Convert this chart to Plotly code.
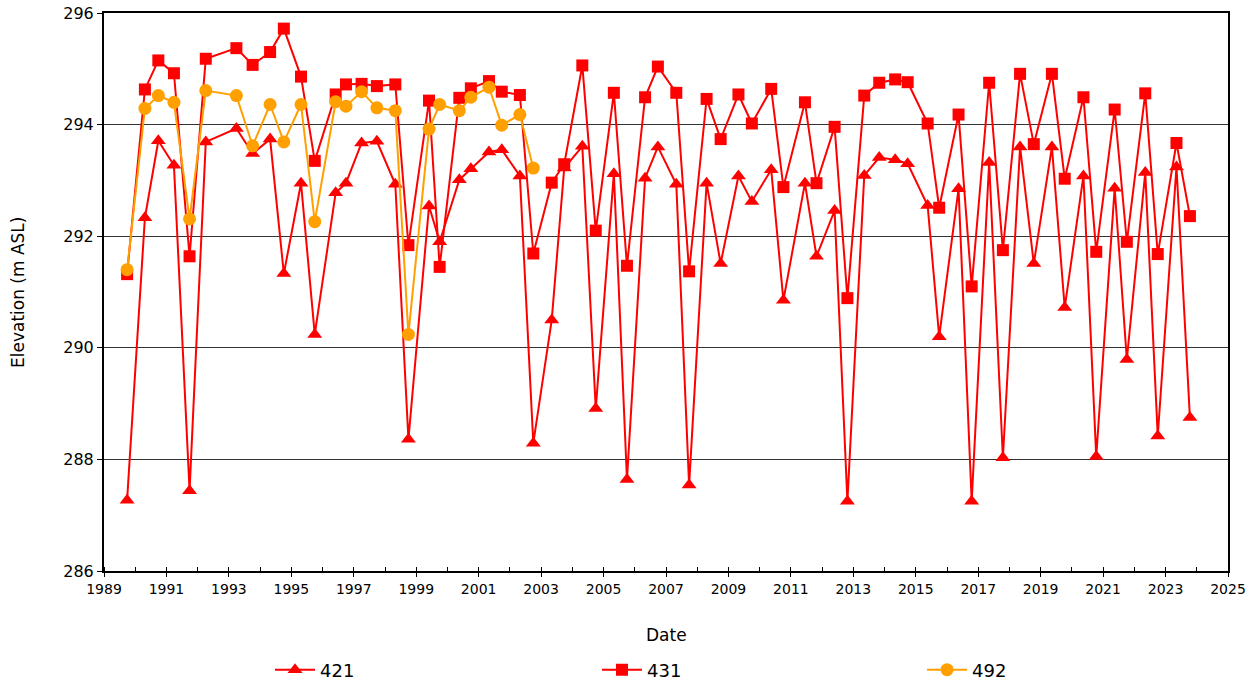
import plotly.graph_objects as go

dates = [
    1989.74, 1990.31, 1990.74, 1991.24, 1991.74, 1992.26, 1993.24, 1993.76, 1994.32, 1994.76, 1995.31,
    1995.75, 1996.42, 1996.75, 1997.25, 1997.74, 1998.33, 1998.75, 1999.41, 1999.75, 2000.38, 2000.75, 2001.33, 2001.74,
    2002.32, 2002.75, 2003.34, 2003.74, 2004.32, 2004.75, 2005.33, 2005.75, 2006.33, 2006.74, 2007.33, 2007.74, 2008.30,
    2008.75, 2009.32, 2009.75, 2010.37, 2010.76, 2011.45, 2011.82, 2012.40, 2012.81, 2013.35, 2013.83, 2014.34,
    2014.74, 2015.38, 2015.75, 2016.37, 2016.79, 2017.35, 2017.79, 2018.34, 2018.78, 2019.36, 2019.77, 2020.37, 2020.78,
    2021.37, 2021.76, 2022.35, 2022.75, 2023.35, 2023.78,
]

well_421 = [
    287.27, 292.33, 293.71, 293.27, 287.44, 293.69, 293.93, 293.48, 293.74, 291.33, 292.95,
    290.24, 292.78, 292.95, 293.67, 293.70, 292.93, 288.36, 292.54, 291.90, 293.01, 293.21, 293.51, 293.55,
    293.08, 288.29, 290.50, 293.22, 293.61, 288.91, 293.12, 287.64, 293.04, 293.60, 292.93, 287.54, 292.95,
    291.51, 293.08, 292.62, 293.19, 290.85, 292.95, 291.64, 292.46, 287.25, 293.09, 293.41, 293.37,
    293.30, 292.55, 290.20, 292.85, 287.25, 293.32, 288.03, 293.60, 291.51, 293.60, 290.72, 293.08, 288.05,
    292.86, 289.79, 293.14, 288.42, 293.24, 288.75,
]

well_431 = [
    291.32, 294.63, 295.15, 294.92, 291.64, 295.18, 295.37, 295.07, 295.30, 295.72, 294.86,
    293.35, 294.54, 294.72, 294.73, 294.69, 294.72, 291.84, 294.43, 291.45, 294.48, 294.65, 294.78, 294.59,
    294.53, 291.69, 292.96, 293.29, 295.06, 292.10, 294.57, 291.47, 294.49, 295.04, 294.57, 291.37, 294.46,
    293.74, 294.54, 294.02, 294.64, 292.88, 294.40, 292.95, 293.96, 290.89, 294.52, 294.75, 294.81,
    294.76, 294.02, 292.51, 294.18, 291.10, 294.75, 291.75, 294.91, 293.65, 294.91, 293.03, 294.49, 291.72,
    294.27, 291.90, 294.56, 291.68, 293.67, 292.36,
]

well_492 = [
    291.40, 294.29, 294.52, 294.40, 292.31, 294.61, 294.52, 293.62, 294.36, 293.69, 294.36,
    292.26, 294.41, 294.33, 294.59, 294.30, 294.25, 290.24, 293.92, 294.36, 294.25, 294.49, 294.67, 293.99,
    294.18, 293.22,
]

x_ticks = list(range(1989, 2026, 2))
y_ticks = list(range(286, 297, 2))

RED = "#FF0000"
ORANGE = "#FFA000"
FONT = "DejaVu Sans, Arial, sans-serif"

fig = go.Figure()
fig.add_trace(go.Scatter(
    x=dates, y=well_421, name="421", mode="lines+markers", legend="legend",
    line=dict(color=RED, width=2),
    marker=dict(symbol="triangle-up", size=13, color=RED),
))
fig.add_trace(go.Scatter(
    x=dates, y=well_431, name="431", mode="lines+markers", legend="legend2",
    line=dict(color=RED, width=2),
    marker=dict(symbol="square", size=12, color=RED),
))
fig.add_trace(go.Scatter(
    x=dates[:len(well_492)], y=well_492, name="492", mode="lines+markers", legend="legend3",
    line=dict(color=ORANGE, width=2),
    marker=dict(symbol="circle", size=13, color=ORANGE),
))
# invisible trace on overlaid axis to give the major x ticks a crossing look
fig.add_trace(go.Scatter(x=[1989, 2025], y=[286, 286], xaxis="x2", mode="lines",
                         line=dict(width=0), showlegend=False, hoverinfo="skip"))

legend_common = dict(
    orientation="h", yref="container", yanchor="middle", y=0.0233, xanchor="left",
    font=dict(size=18, family=FONT), bgcolor="rgba(0,0,0,0)", itemwidth=40,
)

fig.update_layout(
    width=1256, height=686,
    margin=dict(l=104, r=28, t=13, b=115),
    paper_bgcolor="white", plot_bgcolor="white",
    font=dict(family=FONT, color="black"),
    xaxis=dict(
        range=[1989, 2025], tickmode="array", tickvals=x_ticks,
        ticktext=[str(t) for t in x_ticks], automargin=False,
        showgrid=False, zeroline=False,
        showline=True, linecolor="black", linewidth=2, mirror=True,
        ticks="outside", ticklen=4, tickcolor="black", tickwidth=1,
        minor=dict(dtick=1, tick0=1989, ticks="inside", ticklen=4, tickcolor="black", tickwidth=1),
        tickfont=dict(size=14, family=FONT),
    ),
    xaxis2=dict(
        overlaying="x", matches="x", range=[1989, 2025], side="bottom",
        tickmode="array", tickvals=x_ticks, showticklabels=False,
        ticks="inside", ticklen=4, tickcolor="black", tickwidth=1,
        showgrid=False, zeroline=False, showline=False, automargin=False,
    ),
    yaxis=dict(
        range=[286, 296], tickmode="array", tickvals=y_ticks, automargin=False,
        showgrid=True, gridcolor="#333333", gridwidth=1, zeroline=False,
        showline=True, linecolor="black", linewidth=2, mirror=True,
        ticks="outside", ticklen=5, tickcolor="black", tickwidth=1,
        tickfont=dict(size=16, family=FONT),
    ),
    legend=dict(x=0.1477, **legend_common),
    legend2=dict(x=0.4386, **legend_common),
    legend3=dict(x=0.7278, **legend_common),
    showlegend=True,
    annotations=[
        dict(text="Elevation (m ASL)", xref="paper", yref="paper", x=-0.0765, y=0.5,
             textangle=-90, showarrow=False, xanchor="center", yanchor="middle",
             font=dict(size=17, family=FONT)),
        dict(text="Date", xref="paper", yref="paper", x=0.5, y=-0.1147,
             showarrow=False, xanchor="center", yanchor="middle",
             font=dict(size=17, family=FONT)),
    ],
)

fig.write_html(
    "out.html",
    config={"displayModeBar": False},
    post_script="document.body.style.margin='0px';document.body.style.overflow='hidden';",
)
